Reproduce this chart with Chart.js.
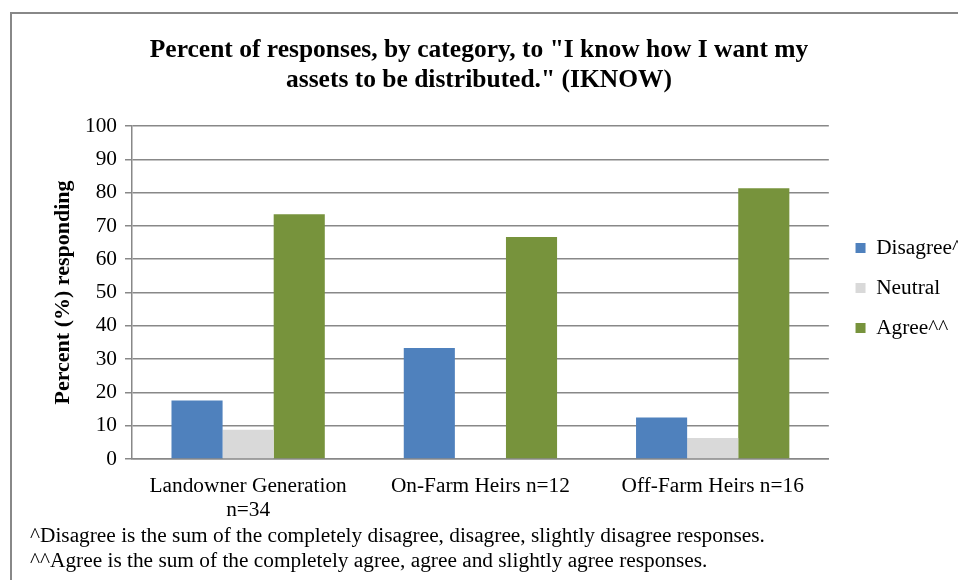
<!DOCTYPE html>
<html>
<head>
<meta charset="utf-8">
<script src="https://cdn.jsdelivr.net/npm/chart.js@4.4.1/dist/chart.umd.min.js"></script>
<style>
  html, body { margin: 0; padding: 0; background: #fff; overflow: hidden; }
  #wrap { position: relative; width: 958px; height: 580px; overflow: hidden; }
  #frame { position: absolute; left: 10px; top: 12px; width: 1000px; height: 1000px;
           border-left: 2px solid #888; border-top: 2px solid #888; box-sizing: border-box; }
  canvas { position: absolute; left: 0; top: 0; }
  .note { position: absolute; left: 30px; font-family: "Liberation Serif", "Times New Roman", serif;
          font-size: 21.33px; line-height: 22px; color: #000; white-space: nowrap; }
</style>
</head>
<body>
<div id="wrap">
  <div id="frame"></div>
  <canvas id="chart" width="958" height="580"></canvas>
  <div class="note" style="top:524px">^Disagree is the sum of the completely disagree, disagree, slightly disagree responses.</div>
  <div class="note" style="top:549px">^^Agree is the sum of the completely agree, agree and slightly agree responses.</div>
</div>
<script>
// Response groups and their sample sizes
const categories = [["Landowner Generation", "n=34"], "On-Farm Heirs n=12", "Off-Farm Heirs n=16"];

// Percent responding in each group
const disagree = [17.6, 33.3, 12.5];
const neutral  = [8.8, 0, 6.3];
const agree    = [73.5, 66.7, 81.3];

const seriesNames = ["Disagree^", "Neutral", "Agree^^"];
const titleLines = ["Percent of responses, by category, to \"I know how I want my", "assets to be distributed.\" (IKNOW)"];
const yAxisTitle = "Percent (%) responding";

const SERIF = "'Liberation Serif', 'Times New Roman', serif";
const GRID = "#888888";

// Moves the legend block after layout so it sits nearer the right edge
const legendOffset = {
  id: "legendOffset",
  afterLayout(chart, args, opts) {
    const lg = chart.legend;
    if (!lg) return;
    lg.left += opts.dx; lg.right += opts.dx;
    lg.top += opts.dy; lg.bottom += opts.dy;
  }
};

new Chart(document.getElementById("chart"), {
  type: "bar",
  data: {
    labels: categories,
    datasets: [
      { label: seriesNames[0], data: disagree, backgroundColor: "#4f81bd", borderWidth: 0 },
      { label: seriesNames[1], data: neutral,  backgroundColor: "#d9d9d9", borderWidth: 0 },
      { label: seriesNames[2], data: agree,    backgroundColor: "#77933c", borderWidth: 0 }
    ]
  },
  plugins: [legendOffset],
  options: {
    responsive: false,
    animation: false,
    devicePixelRatio: 1,
    layout: { padding: { left: -6, right: -6, top: 0, bottom: 0 } },
    datasets: { bar: { categoryPercentage: 0.66, barPercentage: 1.0 } },
    plugins: {
      tooltip: { enabled: false },
      legendOffset: { dx: 8, dy: -2 },
      title: {
        display: true,
        text: titleLines,
        color: "#000",
        font: { family: SERIF, size: 25.5, weight: "bold", lineHeight: 1.2 },
        padding: { top: 35, bottom: 29.8 }
      },
      legend: {
        position: "right",
        align: "center",
        labels: {
          boxWidth: 10,
          boxHeight: 10,
          padding: 18.7,
          color: "#000",
          font: { family: SERIF, size: 21.33 }
        }
      }
    },
    scales: {
      x: {
        grid: { display: false, drawTicks: false },
        border: { display: true, color: GRID, width: 1.5 },
        ticks: { color: "#000", font: { family: SERIF, size: 21.33, lineHeight: 1.1 }, padding: 16, maxRotation: 0 },
        afterFit: (s) => { s.height = 121; }
      },
      y: {
        min: 0,
        max: 100,
        ticks: { stepSize: 10, color: "#000", font: { family: SERIF, size: 21.33 }, padding: 8 },
        grid: { color: GRID, lineWidth: 1.5, tickLength: 7, drawTicks: true },
        border: { display: true, color: GRID, width: 1.5 },
        title: {
          display: true,
          text: yAxisTitle,
          color: "#000",
          font: { family: SERIF, size: 22, weight: "bold" },
          padding: { top: 56, bottom: 0 }
        },
        afterFit: (s) => { s.width = 138; }
      }
    }
  }
});
</script>
</body>
</html>
